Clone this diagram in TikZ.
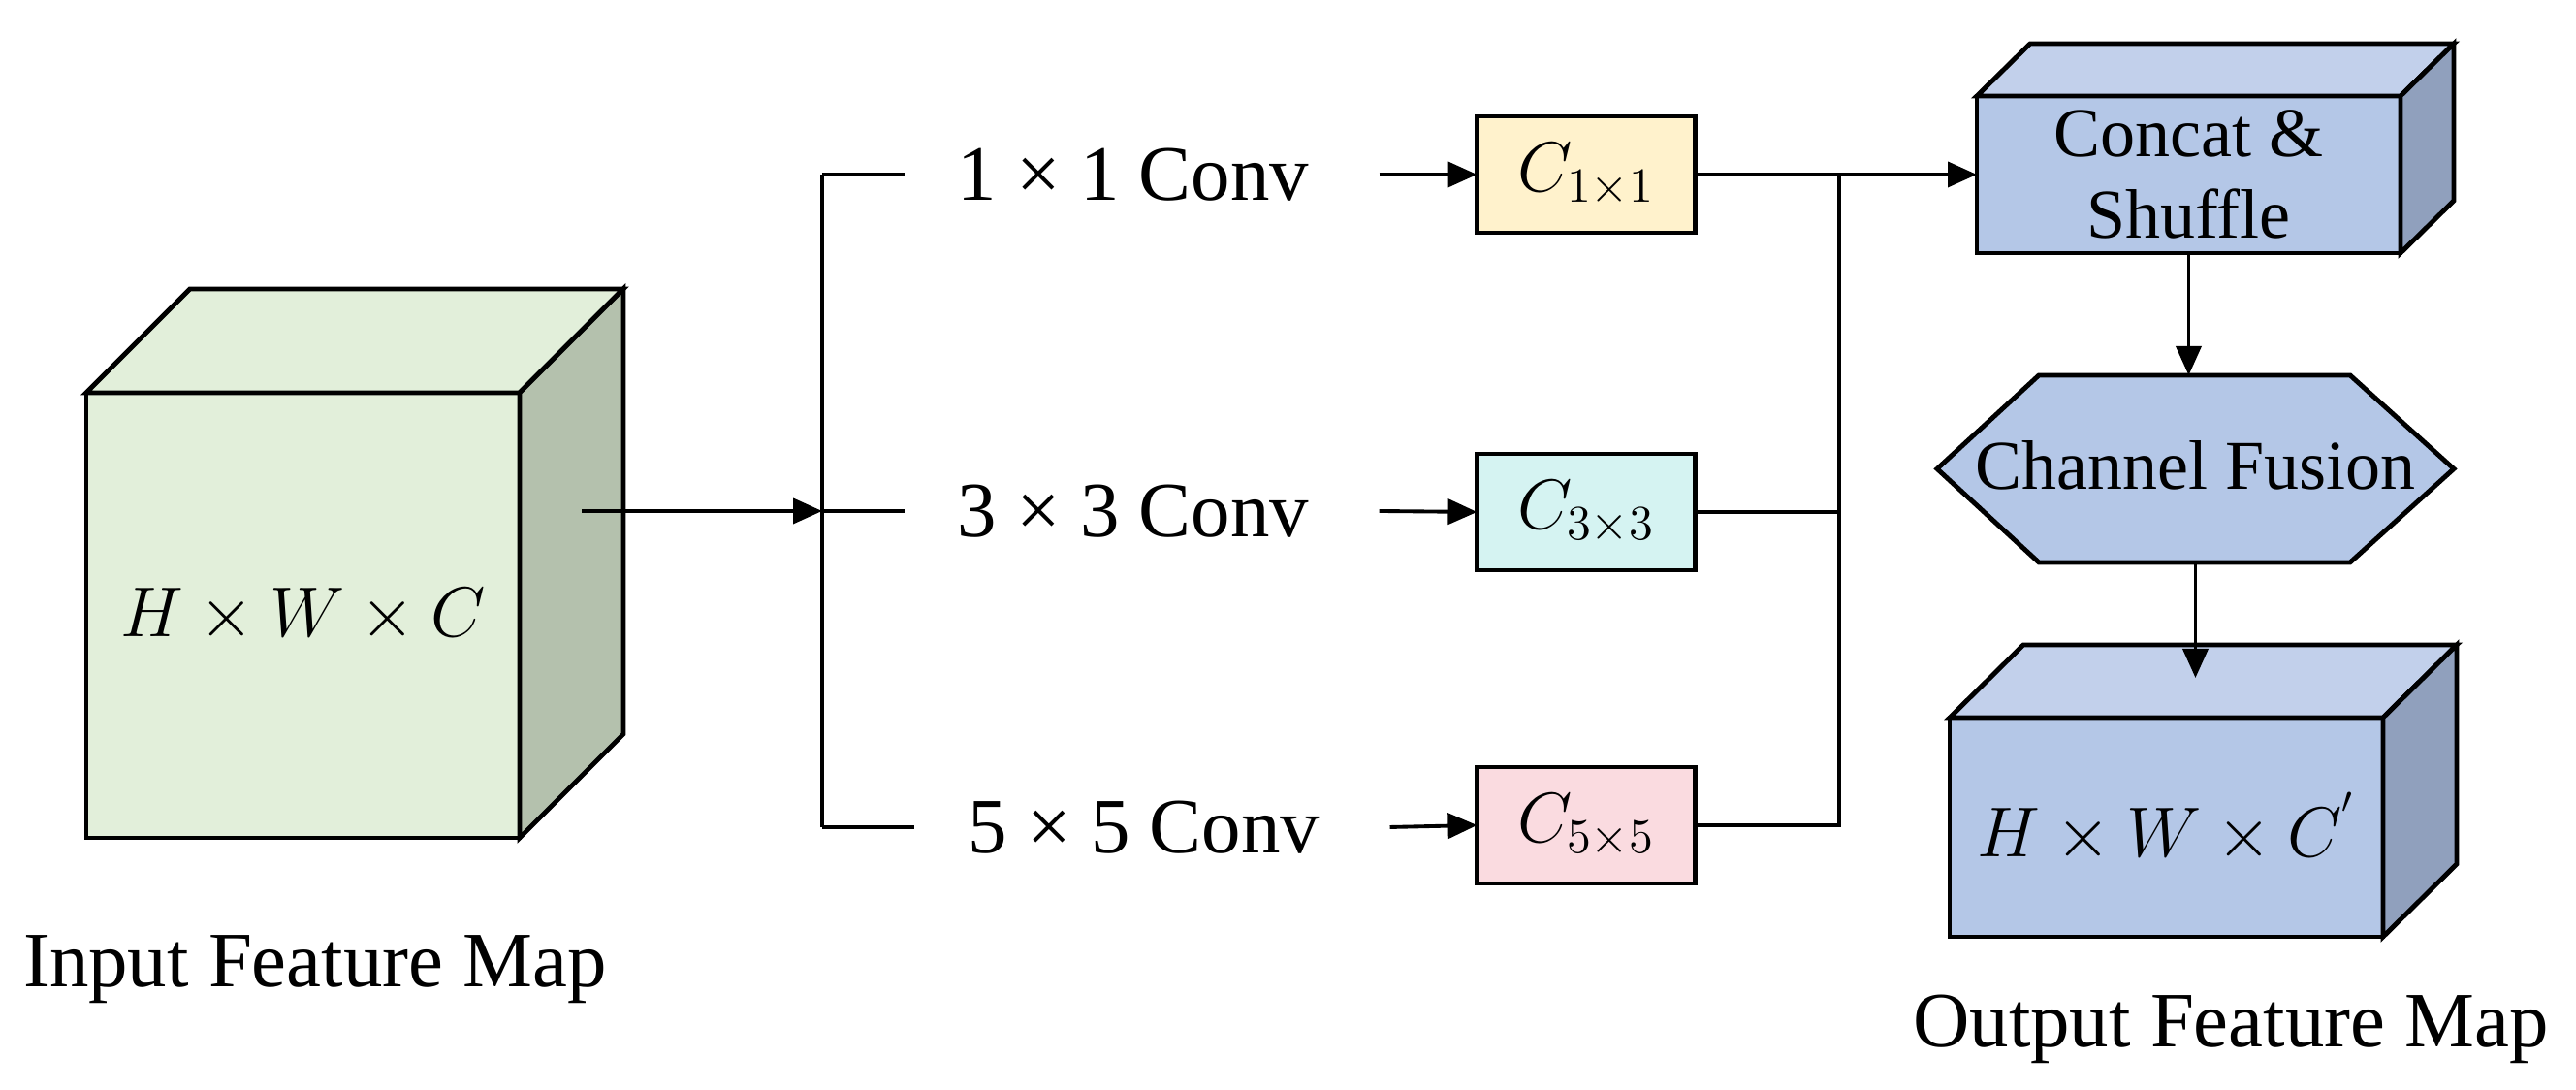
\documentclass[tikz,border=0pt]{standalone}
\usepackage{fontspec}
\setmainfont{Liberation Serif}
\usetikzlibrary{arrows.meta,calc}

\definecolor{ingreen}{HTML}{E2EFDA}
\definecolor{ingreenside}{HTML}{B4C1AD}
\definecolor{fblue}{HTML}{B4C7E7}
\definecolor{fbluetop}{HTML}{C2D0EB}
\definecolor{fblueside}{HTML}{90A0BD}
\definecolor{cyellow}{HTML}{FFF2CC}
\definecolor{ccyan}{HTML}{D5F3F2}
\definecolor{cpink}{HTML}{FADBE0}

\tikzset{
	arr/.style={line width=1.1pt,-{Triangle[length=0.3cm,width=0.26cm]}},
	wire/.style={line width=1.1pt},
	face/.style={draw,line width=1.4pt,line join=miter,outer sep=0pt},
	cbox/.style={face,minimum width=2.25cm,minimum height=1.2cm,font=\fontsize{22}{26}\selectfont},
	convlabel/.style={font=\fontsize{23}{28}\selectfont},
	maplabel/.style={font=\fontsize{23}{28}\selectfont},
	cubetext/.style={font=\fontsize{22}{26}\selectfont},
}

% top and side faces of a box drawn behind its front node
\newcommand{\cubeback}[4]{%
	\draw[face,fill=#3] (#1.north west) -- ++(#2) -- ($(#1.north east)+(#2)$) -- (#1.north east) -- cycle;
	\draw[face,fill=#4] (#1.north east) -- ++(#2) -- ($(#1.south east)+(#2)$) -- (#1.south east) -- cycle;
}

\begin{document}
\begin{tikzpicture}
			\useasboundingbox (0,0) rectangle (26.57,11.24);
			
			% input feature map
			\node[face,cubetext,fill=ingreen,minimum width=4.47cm,minimum height=4.59cm] (in) at (3.125,4.895) {$H\times W\times C$};
			\cubeback{in}{1.07,1.07}{ingreen}{ingreenside}
			\node[maplabel] (inlabel) at (3.25,1.24) {Input Feature Map};
			
			% three branches
			\coordinate (inout) at (6.00,5.97);
			\coordinate (split) at (8.48,5.97);
			\coordinate (b1) at (8.48,9.44);
			\coordinate (b3) at (8.48,2.71);
			\draw[arr] (inout) -- (split);
			\draw[wire] (b1) -- (b3);
			\draw[wire] (b1) -- ++(0.85,0);
			\draw[wire] (split) -- ++(0.85,0);
			\draw[wire] (b3) -- ++(0.95,0);
			
			\node[convlabel] (conv1) at (11.69,9.44) {1 × 1 Conv};
			\node[convlabel] (conv2) at (11.69,5.97) {3 × 3 Conv};
			\node[convlabel] (conv3) at (11.80,2.71) {5 × 5 Conv};
			
			\node[cbox,fill=cyellow] (c1) at (16.36,9.44) {$C_{1\times1}$};
			\node[cbox,fill=ccyan] (c2) at (16.36,5.96) {$C_{3\times3}$};
			\node[cbox,fill=cpink] (c3) at (16.36,2.73) {$C_{5\times5}$};
			
			\draw[arr] ([xshift=0.6cm]conv1.east) -- (c1.west);
			\draw[arr] ([xshift=0.6cm]conv2.east) -- (c2.west);
			\draw[arr] ([xshift=0.6cm]conv3.east) -- (c3.west);
			
			% concat, shuffle and fusion
			\node[face,fill=fblue,minimum width=4.37cm,minimum height=1.62cm,align=center,font=\fontsize{20.5}{24}\selectfont] (concat) at (22.575,9.44) {Concat \&\\Shuffle};
			\cubeback{concat}{0.55,0.54}{fbluetop}{fblueside}
			
			\coordinate (m1) at (18.97,9.44);
			\draw[arr] (c1.east) -- (concat.west);
			\draw[wire] (c2.east) -- (c2.east -| m1);
			\draw[wire] (c3.east) -- (c3.east -| m1) -- (m1);
			
			\coordinate (fusec) at (22.645,6.405);
			\draw[face,fill=fblue] ($(fusec)+(-2.665,0)$) -- ++(1.05,0.965) -- ++(3.21,0) -- ($(fusec)+(2.665,0)$) -- ++(-1.07,-0.965) -- ++(-3.21,0) -- cycle;
			\node[minimum width=5.33cm,minimum height=1.93cm,outer sep=0pt,font=\fontsize{20.5}{24}\selectfont] (fuse) at (fusec) {\raisebox{0.07cm}{Channel Fusion}};
			\draw[arr] (concat.south) -- (concat.south |- fuse.north);
			
			% output feature map
			\node[face,cubetext,fill=fblue,minimum width=4.47cm,minimum height=2.26cm] (out) at (22.345,2.71) {$H\times W\times C^{'}$};
			\cubeback{out}{0.76,0.75}{fbluetop}{fblueside}
			\coordinate (outtop) at ($(out.north)+(0,0.41)$);
			\draw[arr] (fuse.south) -- (fuse.south |- outtop);
			\node[maplabel] (outlabel) at (23.01,0.63) {Output Feature Map};
\end{tikzpicture}
\end{document}
